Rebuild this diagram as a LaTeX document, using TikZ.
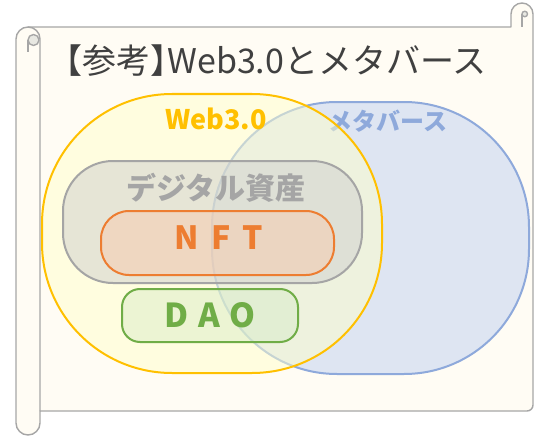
\documentclass[tikz,border=0pt]{standalone}
\usepackage{fontspec}
\setmainfont{Noto Sans CJK JP}
\newfontfamily\jphalt{Noto Sans CJK JP}[RawFeature=+halt]
\definecolor{cream}{HTML}{FFFCF4}
\definecolor{scrollline}{HTML}{A6A6A6}
\definecolor{curlshade}{HTML}{E8E8E2}
\definecolor{titlecol}{HTML}{404040}
\definecolor{gold}{HTML}{FFC000}
\definecolor{goldfill}{HTML}{FFFFCC}
\definecolor{blueline}{HTML}{8EA9DB}
\definecolor{bluefill}{HTML}{DEE5F2}
\definecolor{grayline}{HTML}{A5A5A5}
\definecolor{grayfill}{HTML}{CFCFCF}
\definecolor{orangeline}{HTML}{ED7D31}
\definecolor{orangefill}{HTML}{F8CBAD}
\definecolor{greenline}{HTML}{70AD47}
\definecolor{greenfill}{HTML}{D5EBC6}
\newcommand{\rrpath}[5]{(#1+#5,#2) -- (#3-#5,#2) arc[start angle=270,end angle=360,radius=#5] -- (#3,#4-#5) arc[start angle=0,end angle=90,radius=#5] -- (#1+#5,#4) arc[start angle=90,end angle=180,radius=#5] -- (#1,#2+#5) arc[start angle=180,end angle=270,radius=#5] -- cycle}
\tikzset{
  scrollstyle/.style={draw=scrollline, line width=1.4pt, line join=round},
  setshape/.style={line width=2pt},
  lbl/.style={inner sep=0pt}
}
\begin{document}
\begin{tikzpicture}[x=1pt,y=-1pt]
\useasboundingbox (0,0) rectangle (541,436);
% scroll
\path[scrollstyle, fill=cream] (16,39) arc[start angle=180,end angle=270,radius=12]
  -- (511,27) -- (511,14) arc[start angle=180,end angle=360,radius=11]
  -- (533,405) arc[start angle=0,end angle=90,radius=6]
  -- (40,411) -- (40,423) arc[start angle=0,end angle=180,radius=12] -- cycle;
\draw[scrollstyle] (28,27) arc[start angle=270,end angle=360,radius=12] -- (40,411);
\draw[scrollstyle, fill=curlshade] (33.5,40) circle[radius=5.5];
\draw[scrollstyle] (28,40) -- (28,52);
\draw[scrollstyle, fill=curlshade] (524.75,14) circle[radius=2.75];
\draw[scrollstyle] (522,14) -- (522,27);
% title
\node[lbl, text=titlecol, font=\fontsize{34}{40}\selectfont] (title) at (276,61) {{\jphalt 【}参考{\jphalt 】}Web3.0とメタバース};
% metaverse set
\path[setshape, draw=blueline, fill=bluefill] \rrpath{212}{102}{529}{374}{125};
\node[lbl, text=blueline, font=\bfseries\fontsize{24}{28}\selectfont] (metal) at (388,121) {メタバース};
% web3 set
\path[setshape, draw=gold, fill=goldfill, fill opacity=0.5, draw opacity=1] \rrpath{42}{94}{382}{373}{130};
\node[lbl, text=gold, font=\bfseries\fontsize{27}{32}\selectfont] (webl) at (216,119) {Web3.0};
% digital assets
\path[setshape, draw=grayline, fill=grayfill, fill opacity=0.5, draw opacity=1] \rrpath{63}{161}{362}{283}{50};
\node[lbl, text=grayline, font=\bfseries\fontsize{30}{34}\selectfont] (digl) at (216,188) {デジタル資産};
% NFT
\path[setshape, draw=orangeline, fill=orangefill, fill opacity=0.5, draw opacity=1] \rrpath{101}{211}{334}{275}{28};
\node[lbl, text=orangeline, font=\bfseries\fontsize{32}{36}\selectfont] (nftl) at (219,238) {N\hspace{12pt}F\hspace{12pt}T};
% DAO
\path[setshape, draw=greenline, fill=greenfill, fill opacity=0.45, draw opacity=1] \rrpath{122}{289}{298}{342}{18};
\node[lbl, text=greenline, font=\bfseries\fontsize{33}{38}\selectfont] (daol) at (210,315) {D\hspace{10pt}A\hspace{10pt}O};
\end{tikzpicture}
\end{document}
